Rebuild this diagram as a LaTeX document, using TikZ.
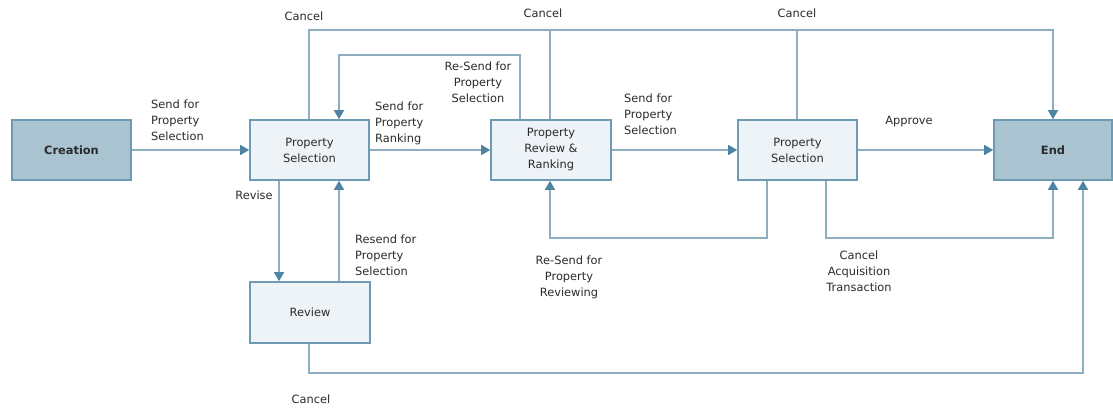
\documentclass[tikz,border=0pt]{standalone}
\usepackage{fontspec}
\setmainfont{DejaVu Sans}
\usetikzlibrary{arrows.meta,calc}
\definecolor{linec}{HTML}{8DAEC0}
\definecolor{tipc}{HTML}{4E84A2}
\definecolor{boxline}{HTML}{6E9BB3}
\definecolor{darkfill}{HTML}{A9C3D1}
\definecolor{lightfill}{HTML}{EEF3F8}
\definecolor{txt}{HTML}{2A2A2A}
\begin{document}
\begin{tikzpicture}[x=1pt,y=-1pt,
  every node/.style={font=\fontsize{11.4}{16}\selectfont, text=txt},
  box/.style={draw=boxline, line width=1.6pt, fill=lightfill, minimum width=119pt,
    minimum height=60pt, align=center, inner sep=0pt},
  endbox/.style={box, fill=darkfill, font=\fontsize{11.4}{16}\selectfont\bfseries},
  conn/.style={draw=linec, line width=1.4pt,
    -{Triangle[width=10pt,length=9pt,color=tipc]}},
  plain/.style={draw=linec, line width=1.4pt},
  lbl/.style={align=center, inner sep=0pt},
  lbll/.style={align=left, inner sep=0pt, anchor=west}]
\useasboundingbox (0,0) rectangle (1113,407);

% states
\node[endbox] (creation) at (71.5,150) {Creation};
\node[box] (ps1) at (309.5,150) {Property\\Selection};
\node[box, minimum width=120pt] (prr) at (551,150) {Property\\Review \&\\Ranking};
\node[box] (ps2) at (797.5,150) {Property\\Selection};
\node[endbox, minimum width=118pt] (end) at (1053,150) {End};
\node[box, minimum width=120pt, minimum height=61pt] (review) at (310,312.5) {Review};

% x positions of vertical runs
\coordinate (xrevise) at (279,0);
\coordinate (xresend) at (339,0);
\coordinate (xcanrev) at (309,0);
\coordinate (xprrsel) at (520,0);
\coordinate (xprrmid) at (550,0);
\coordinate (xps2top) at (797,0);
\coordinate (xps2back) at (767,0);
\coordinate (xps2can) at (826,0);
\coordinate (xendmid) at (1053,0);
\coordinate (xendright) at (1083,0);
% y positions of horizontal runs
\coordinate (ytop) at (0,30);
\coordinate (yresel) at (0,55);
\coordinate (ylow) at (0,238);
\coordinate (ybottom) at (0,373);

% main flow
\draw[conn] (creation) -- (ps1);
\draw[conn] (ps1) -- (prr);
\draw[conn] (prr) -- (ps2);
\draw[conn] (ps2) -- (end);

% cancel lines along the top
\draw[conn] (ps1.north -| xcanrev) -- (ytop -| xcanrev) -- (ytop -| xendmid) -- (end.north -| xendmid);
\draw[plain] (prr.north -| xprrmid) -- (ytop -| xprrmid);
\draw[plain] (ps2.north -| xps2top) -- (ytop -| xps2top);

% re-send for property selection
\draw[conn] (prr.north -| xprrsel) -- (yresel -| xprrsel) -- (yresel -| xresend) -- (ps1.north -| xresend);

% revise / resend
\draw[conn] (ps1.south -| xrevise) -- (review.north -| xrevise);
\draw[conn] (review.north -| xresend) -- (ps1.south -| xresend);

% re-send for property reviewing
\draw[conn] (ps2.south -| xps2back) -- (ylow -| xps2back) -- (ylow -| xprrmid) -- (prr.south -| xprrmid);

% cancel acquisition transaction
\draw[conn] (ps2.south -| xps2can) -- (ylow -| xps2can) -- (ylow -| xendmid) -- (end.south -| xendmid);

% cancel from review
\draw[conn] (review.south -| xcanrev) -- (ybottom -| xcanrev) -- (ybottom -| xendright) -- (end.south -| xendright);

% labels
\node[lbll] (l1) at (151,120.5) {Send for\\Property\\Selection};
\node[lbll] (l2) at (375,123) {Send for\\Property\\Ranking};
\node[lbl] (l3) at (478,82) {Re-Send for\\Property\\Selection};
\node[lbll] (l4) at (624,114) {Send for\\Property\\Selection};
\node[lbl] (l5) at (909,122) {Approve};
\node[lbl] (c1) at (304,16) {Cancel};
\node[lbl] (c2) at (543,13) {Cancel};
\node[lbl] (c3) at (797,13) {Cancel};
\node[lbl] (l6) at (254,195) {Revise};
\node[lbll] (l7) at (355,255) {Resend for\\Property\\Selection};
\node[lbl] (l8) at (569,277) {Re-Send for\\Property\\Reviewing};
\node[lbl] (l9) at (859,271) {Cancel\\Acquisition\\Transaction};
\node[lbl] (c4) at (311,399) {Cancel};
\end{tikzpicture}
\end{document}
